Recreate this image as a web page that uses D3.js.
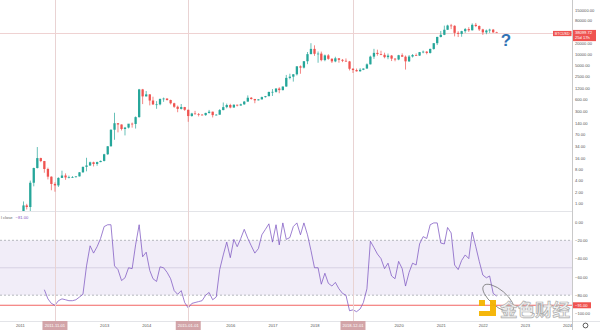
<!DOCTYPE html>
<html>
<head>
<meta charset="utf-8">
<script src="https://cdn.jsdelivr.net/npm/d3@7"></script>
<style>
  html, body { margin: 0; padding: 0; background: #fff; }
  svg { display: block; font-family: "Liberation Sans", Arial, sans-serif; }
</style>
</head>
<body>
<svg id="chart" width="600" height="330"></svg>
<script>
// ---- Monthly BTCUSD candles, Jan 2011 .. May 2022 ----
const firstMonth = [2011, 0];
const opens = [
  0.30, 0.52, 0.86, 0.78, 3.50, 8.70, 16.10, 13.40, 8.20, 5.10, 3.25, 2.97,
  4.72, 5.48, 4.86, 4.90, 4.95, 5.19, 6.68, 9.35, 10.20, 12.40, 11.20, 12.57,
  13.51, 20.41, 33.38, 93.03, 139.23, 128.82, 97.51, 106.21, 135.35, 133.00, 203.00, 1129.00,
  732, 829, 567, 445, 447, 628, 640, 585, 478, 386, 338, 378,
  320, 217, 254, 244, 236, 230, 263, 284, 230, 236, 314, 377,
  430, 368, 437, 416, 448, 531, 673, 624, 574, 609, 700, 742,
  964, 970, 1190, 1080, 1348, 2300, 2480, 2875, 4700, 4340, 6450, 10000,
  13850, 10220, 10330, 6920, 9240, 7490, 6390, 7730, 7030, 6630, 6370, 4040,
  3740, 3460, 3810, 4100, 5320, 8570, 10820, 10080, 9600, 8300, 9150, 7570,
  7190, 9350, 8540, 6410, 8630, 9450, 9140, 11330, 11650, 10780, 13800, 19700,
  28990, 33140, 45170, 58800, 57720, 37330, 35040, 41460, 47100, 43790, 61300, 57000,
  46200, 38480, 43190, 45530, 38500
];
const highs = [
  0.55, 1.10, 0.95, 4.00, 8.90, 31.90, 16.50, 13.50, 8.90, 5.20, 3.60, 4.90,
  7.38, 6.25, 5.45, 5.30, 5.20, 6.73, 9.50, 16.40, 12.90, 12.90, 12.90, 13.85,
  21.00, 34.00, 95.00, 266.00, 140.00, 129.00, 111.00, 129.00, 145.00, 212.00, 1163.00, 1163.00,
  1022, 845, 718, 546, 633, 680, 650, 600, 494, 415, 457, 383,
  320, 265, 299, 262, 247, 266, 317, 285, 244, 334, 502, 469,
  463, 446, 439, 467, 552, 779, 704, 627, 618, 722, 753, 981,
  1153, 1210, 1290, 1350, 2760, 2980, 2920, 4740, 4980, 6470, 11400, 19666,
  17250, 11790, 11700, 9760, 9990, 7770, 8500, 7760, 7410, 7680, 6580, 4230,
  4100, 4200, 4130, 5640, 9090, 13880, 13200, 12330, 10940, 10370, 9500, 7750,
  9580, 10500, 9190, 9460, 10070, 10430, 11440, 12470, 12090, 14100, 19860, 29300,
  41950, 58350, 61780, 64900, 59600, 41330, 42400, 50500, 52950, 67000, 69000, 59100,
  47990, 45800, 48200, 47440, 40000
];
const lows = [
  0.29, 0.52, 0.67, 0.56, 2.80, 8.50, 12.50, 6.50, 4.30, 2.20, 2.01, 2.70,
  4.72, 4.20, 4.60, 4.70, 4.85, 5.18, 6.50, 7.10, 9.90, 9.60, 10.00, 12.50,
  13.10, 19.60, 33.10, 50.00, 79.10, 89.00, 65.50, 101.00, 106.00, 100.00, 197.00, 455.00,
  732, 420, 435, 340, 421, 523, 566, 445, 360, 275, 325, 300,
  152, 209, 239, 212, 227, 220, 253, 199, 225, 236, 310, 350,
  350, 366, 394, 412, 436, 528, 600, 480, 572, 607, 681, 740,
  752, 923, 890, 1060, 1330, 2100, 1830, 2670, 2970, 4110, 5380, 10000,
  9000, 5870, 6430, 6440, 7070, 5780, 6070, 5880, 6100, 6200, 3650, 3120,
  3400, 3390, 3720, 4090, 5320, 7460, 9070, 9360, 7730, 7300, 6520, 6430,
  6870, 8470, 3850, 6150, 8100, 8900, 8970, 10530, 9880, 10370, 13200, 17570,
  28130, 32400, 45000, 47000, 30000, 28800, 29300, 37330, 39600, 43290, 53250, 42000,
  32900, 34300, 37200, 37600, 37400
];
const closes = [
  0.52, 0.86, 0.78, 3.50, 8.70, 16.10, 13.40, 8.20, 5.10, 3.25, 2.97, 4.72,
  5.48, 4.86, 4.90, 4.95, 5.19, 6.68, 9.35, 10.20, 12.40, 11.20, 12.57, 13.51,
  20.41, 33.38, 93.03, 139.23, 128.82, 97.51, 106.21, 135.35, 133.00, 203.00, 1129.00, 732.00,
  829, 567, 445, 447, 628, 640, 585, 478, 386, 338, 378, 320,
  217, 254, 244, 236, 230, 263, 284, 230, 236, 314, 377, 430,
  368, 437, 416, 448, 531, 673, 624, 574, 609, 700, 742, 964,
  970, 1190, 1080, 1348, 2300, 2480, 2875, 4700, 4340, 6450, 10000, 13850,
  10220, 10330, 6920, 9240, 7490, 6390, 7730, 7030, 6630, 6370, 4040, 3740,
  3460, 3810, 4100, 5320, 8570, 10820, 10080, 9600, 8300, 9150, 7570, 7190,
  9350, 8540, 6410, 8630, 9450, 9140, 11330, 11650, 10780, 13800, 19700, 28990,
  33140, 45170, 58800, 57720, 37330, 35040, 41460, 47100, 43790, 61300, 57000, 46200,
  38480, 43190, 45530, 38500, 38099.72
];

// ---- Williams %R (monthly), Aug 2011 .. May 2022 ----
const wprFirstMonth = [2011, 7];
const wprValues = [
  -74, -84, -89, -91, -86,
  -84, -85, -86, -86, -85, -82, -79, -48, -26, -34, -27, -18,
  -5, -3, -3, -48, -52, -64, -61, -50, -51, -25, -3, -38,
  -33, -53, -62, -65, -49, -50, -55, -62, -75, -79, -75, -88,
  -94, -89, -88, -87, -86, -80, -77, -85, -82, -52, -36, -22,
  -39, -19, -27, -18, -8, -18, -26, -34, -29, -14, -8, -2,
  -22, -3, -25, -1, -19, -17, -5, -1, -14, -1, -14, -31,
  -50, -50, -68, -56, -67, -70, -66, -73, -78, -80, -97, -96,
  -98, -95, -88, -73, -21, -28, -35, -40, -51, -45, -59, -62,
  -43, -51, -70, -55, -45, -47, -24, -16, -18, -3, -1, -1,
  -23, -24, -6, -12, -47, -52, -42, -36, -40, -11, -27, -43,
  -58, -61, -59, -78, -81
];

// ---- Axis ticks and annotations ----
const priceTicks = [150000, 80000, 20000, 10000, 5000, 2500, 1200, 600, 300, 140, 70, 34, 16, 8, 4, 2, 1];
const wprTicks = [0, -20, -40, -60, -80, -100];
const yearTicks = [2011, 2013, 2014, 2016, 2017, 2018, 2020, 2021, 2022, 2023, 2024];
const markedDates = ["2011-11-01", "2015-01-01", "2018-12-01"];
const symbolName = "BTCUSD";
const lastPrice = 38099.72;
const barCountdown = "25d 17h";
const wprUpper = -20, wprMid = -50, wprLower = -80;
const wprLevel = -91;
const legendLabel = "l close";

// ---- Layout ----
const axisX = 572;
const priceBottom = 211;
const oscBottom = 321;
const UP = "#26a69a", DOWN = "#ef5350";
const fs = 4.1;

const svg = d3.select("#chart");
svg.append("rect").attr("width", 600).attr("height", 330).attr("fill", "#fff");

const x = d3.scaleUtc()
  .domain([new Date(Date.UTC(2010, 6, 12)), new Date(Date.UTC(2024, 1, 14))])
  .range([0, axisX]);
const y = d3.scaleLog().domain([0.6095, 285100]).range([priceBottom, 0]);
const yW = d3.scaleLinear().domain([-100, 0]).range([313.5, 222]);

const monthAt = (start, i) => d3.utcMonth.offset(new Date(Date.UTC(start[0], start[1], 1)), i);
const candles = opens.map((o, i) => ({
  date: monthAt(firstMonth, i), o, h: highs[i], l: lows[i], c: closes[i]
}));
const wpr = wprValues.map((v, i) => ({ date: monthAt(wprFirstMonth, i), v }));

const defs = svg.append("defs");
defs.append("clipPath").attr("id", "clipPrice")
  .append("rect").attr("x", 0).attr("y", 0).attr("width", axisX).attr("height", priceBottom);
defs.append("clipPath").attr("id", "clipOsc")
  .append("rect").attr("x", 0).attr("y", priceBottom).attr("width", axisX).attr("height", oscBottom - priceBottom);

// ---- Oscillator background band and levels ----
const osc = svg.append("g").attr("clip-path", "url(#clipOsc)");
osc.append("rect")
  .attr("x", 0).attr("width", axisX)
  .attr("y", yW(wprUpper)).attr("height", yW(wprLower) - yW(wprUpper))
  .attr("fill", "rgba(126,87,194,0.11)");
[wprUpper, wprLower].forEach(v => {
  osc.append("line")
    .attr("x1", 0).attr("x2", axisX).attr("y1", yW(v)).attr("y2", yW(v))
    .attr("stroke", "#8a8d96").attr("stroke-width", 0.6).attr("stroke-dasharray", "2,2");
});
osc.append("line")
  .attr("x1", 0).attr("x2", axisX).attr("y1", yW(wprMid)).attr("y2", yW(wprMid))
  .attr("stroke", "rgba(120,110,150,0.35)").attr("stroke-width", 0.6);
osc.append("line")
  .attr("x1", 0).attr("x2", axisX).attr("y1", yW(wprLevel)).attr("y2", yW(wprLevel))
  .attr("stroke", DOWN).attr("stroke-width", 0.9);

// ---- Pane separators ----
svg.append("line").attr("x1", 0).attr("x2", axisX).attr("y1", priceBottom + 0.5).attr("y2", priceBottom + 0.5)
  .attr("stroke", "#e3e4e8").attr("stroke-width", 1);
svg.append("line").attr("x1", 0).attr("x2", 600).attr("y1", oscBottom + 0.5).attr("y2", oscBottom + 0.5)
  .attr("stroke", "#e3e4e8").attr("stroke-width", 1);

// ---- Marked lows and last-price line ----
const markLines = svg.append("g");
markedDates.forEach(d => {
  const xx = Math.round(x(new Date(d + "T00:00:00Z"))) + 0.5;
  markLines.append("line").attr("x1", xx).attr("x2", xx).attr("y1", 0).attr("y2", oscBottom)
    .attr("stroke", "#e9d3d3").attr("stroke-width", 1);
});
const yLast = y(lastPrice);
markLines.append("line").attr("x1", 0).attr("x2", axisX).attr("y1", yLast + 1).attr("y2", yLast + 1)
  .attr("stroke", "#efd2d2").attr("stroke-width", 1);

// ---- Candles ----
const cg = svg.append("g").attr("clip-path", "url(#clipPrice)");
const bw = 2.3;
const bars = cg.selectAll("g.c").data(candles).join("g").attr("class", "c");
bars.append("line")
  .attr("x1", d => x(d.date)).attr("x2", d => x(d.date))
  .attr("y1", d => y(d.h)).attr("y2", d => y(d.l))
  .attr("stroke", d => d.c >= d.o ? UP : DOWN).attr("stroke-width", 0.7);
bars.append("rect")
  .attr("x", d => x(d.date) - bw / 2).attr("width", bw)
  .attr("y", d => Math.min(y(d.o), y(d.c)))
  .attr("height", d => Math.max(0.7, Math.abs(y(d.o) - y(d.c))))
  .attr("fill", d => d.c >= d.o ? UP : DOWN);

// ---- Williams %R line ----
osc.append("path").datum(wpr)
  .attr("fill", "none").attr("stroke", "#7e57c2").attr("stroke-width", 0.75)
  .attr("d", d3.line().x(d => x(d.date)).y(d => yW(d.v)));

// ---- Hand-drawn ellipse around the latest reading ----
const ex = x(new Date(Date.UTC(2022, 4, 15))), ey = yW(-83);
svg.append("ellipse")
  .attr("cx", ex).attr("cy", ey).attr("rx", 19).attr("ry", 8)
  .attr("transform", `rotate(40 ${ex} ${ey})`)
  .attr("fill", "none").attr("stroke", "#6b6b6b").attr("stroke-width", 0.7);

// ---- Watermark (kept inside the plot, left of the price scale) ----
const wm = svg.append("g").attr("opacity", 0.95);
wm.append("path")
  .attr("d", "M479,300h6v6h-6z M490,300h6v16h-17v-5h11z")
  .attr("fill", "#f5b400");
wm.append("text").attr("x", 500).attr("y", 315.5)
  .attr("font-family", "'Noto Sans CJK SC', sans-serif").attr("font-weight", 700)
  .attr("font-size", 17.5).attr("fill", "#f2f2f2").attr("stroke", "#a9a9a9").attr("stroke-width", 0.7)
  .text("金色财经");

// ---- Price axis ----
svg.append("line").attr("x1", axisX + 0.5).attr("x2", axisX + 0.5).attr("y1", 0).attr("y2", 330)
  .attr("stroke", "#c9c9c9").attr("stroke-width", 1);
const pAxis = svg.append("g").attr("transform", `translate(${axisX},0)`)
  .call(d3.axisRight(y).tickValues(priceTicks).tickFormat(d3.format(".2f")).tickSize(0).tickPadding(3));
pAxis.select(".domain").remove();
pAxis.selectAll("text").attr("font-size", fs).attr("fill", "#555").attr("font-family", "'Liberation Sans', Arial, sans-serif");

const wAxis = svg.append("g").attr("transform", `translate(${axisX},0)`)
  .call(d3.axisRight(yW).tickValues(wprTicks).tickFormat(d3.format(".2f")).tickSize(0).tickPadding(3));
wAxis.select(".domain").remove();
wAxis.selectAll("text").attr("font-size", fs).attr("fill", "#555").attr("font-family", "'Liberation Sans', Arial, sans-serif");

// Last price tags
const tagSym = svg.append("g");
tagSym.append("rect").attr("x", 553).attr("y", yLast - 1.6).attr("width", 18.5).attr("height", 5.2).attr("fill", DOWN);
tagSym.append("text").attr("x", 562.2).attr("y", yLast + 2.1).attr("text-anchor", "middle")
  .attr("font-size", 3.6).attr("fill", "#fff").text(symbolName);
const tagPrice = svg.append("g");
tagPrice.append("rect").attr("x", axisX + 1).attr("y", yLast - 2.6).attr("width", 23).attr("height", 11.2).attr("fill", DOWN);
tagPrice.append("text").attr("x", axisX + 3).attr("y", yLast + 1.6)
  .attr("font-size", fs).attr("fill", "#fff").text(d3.format(".2f")(lastPrice));
tagPrice.append("text").attr("x", axisX + 3).attr("y", yLast + 6.6)
  .attr("font-size", fs).attr("fill", "#fff").text(barCountdown);

// Level tag on the oscillator axis
const tagLvl = svg.append("g");
tagLvl.append("rect").attr("x", axisX + 1).attr("y", yW(wprLevel) - 3).attr("width", 18).attr("height", 6).attr("fill", DOWN);
tagLvl.append("text").attr("x", axisX + 3).attr("y", yW(wprLevel) + 1.5)
  .attr("font-size", fs).attr("fill", "#fff").text(d3.format(".2f")(wprLevel));

// ---- Time axis ----
const tAxis = svg.append("g").attr("transform", `translate(0,${oscBottom})`)
  .call(d3.axisBottom(x).tickValues(yearTicks.map(yr => new Date(Date.UTC(yr, 0, 1))))
    .tickFormat(d3.utcFormat("%Y")).tickSize(0).tickPadding(0));
tAxis.select(".domain").remove();
tAxis.selectAll("text").attr("font-size", fs).attr("fill", "#555").attr("dy", null).attr("y", 5.6)
  .attr("font-family", "'Liberation Sans', Arial, sans-serif");

markedDates.forEach(d => {
  const xx = x(new Date(d + "T00:00:00Z"));
  svg.append("rect").attr("x", xx - 12.5).attr("y", oscBottom).attr("width", 25).attr("height", 9)
    .attr("fill", "#d2a4a8");
  svg.append("text").attr("x", xx).attr("y", oscBottom + 5.6).attr("text-anchor", "middle")
    .attr("font-size", fs).attr("fill", "#fff").text(d);
});

// Scale-mode button
svg.append("circle").attr("cx", 585.5).attr("cy", 325.5).attr("r", 2.4)
  .attr("fill", "none").attr("stroke", "#333").attr("stroke-width", 0.8);

// ---- Oscillator legend ----
const lg = svg.append("text").attr("x", 1).attr("y", 219.2).attr("font-size", fs);
lg.append("tspan").attr("fill", "#666").text(legendLabel);
lg.append("tspan").attr("fill", "#7e57c2").attr("dx", 3).text(d3.format(".2f")(wprValues[wprValues.length - 1]));

// ---- Question mark next to the last candle ----
svg.append("text").attr("x", 506).attr("y", 45.5).attr("text-anchor", "middle")
  .attr("font-size", 17).attr("font-weight", 700).attr("fill", "#3172b4")
  .attr("font-family", "'Liberation Sans', Arial, sans-serif").text("?");
</script>
</body>
</html>
